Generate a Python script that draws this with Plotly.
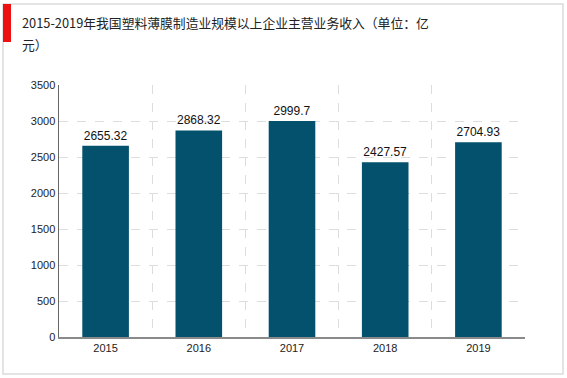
import plotly.graph_objects as go

years = ["2015", "2016", "2017", "2018", "2019"]
revenue = [2655.32, 2868.32, 2999.7, 2427.57, 2704.93]
value_labels = ["2655.32", "2868.32", "2999.7", "2427.57", "2704.93"]
title_line1 = "2015-2019年我国塑料薄膜制造业规模以上企业主营业务收入（单位：亿"
title_line2 = "元）"

W, H = 567, 378
L, R, T, B = 59, 525, 85, 337
pw, ph = R - L, B - T

def px(x):
    return (x - L) / pw

def py(y):
    return (B - y) / ph

fig = go.Figure()
fig.add_trace(go.Bar(
    x=years, y=revenue, text=value_labels, textposition="outside",
    textfont=dict(size=12, color="#111", family="Liberation Sans, Arial"),
    marker=dict(color="#03516D", line=dict(width=0)),
    width=0.5, cliponaxis=False, hoverinfo="skip",
))
# invisible trace to carry the category-boundary grid axis
n = len(years)
bounds = [i + 0.5 for i in range(n - 1)] + [n - 0.5]
fig.add_trace(go.Scatter(x=[-0.5, n - 0.5], y=[0, 0], xaxis="x2", mode="markers",
                         marker=dict(opacity=0), showlegend=False, hoverinfo="skip"))

fig.update_layout(
    width=W, height=H,
    margin=dict(l=L, r=W - R, t=T, b=H - B, autoexpand=False),
    paper_bgcolor="white", plot_bgcolor="white",
    showlegend=False,
    font=dict(family="Liberation Sans, Arial", size=11, color="#333"),
    xaxis=dict(type="category", showgrid=False, showline=True, linecolor="#8a8a8a",
               linewidth=1.5, ticks="", tickfont=dict(size=11, color="#222")),
    xaxis2=dict(overlaying="x", type="linear", range=[-0.5, n - 0.5], tickvals=bounds,
                showticklabels=False, showgrid=True, gridcolor="#dddddd", griddash="dash",
                gridwidth=1, zeroline=False, showline=False, ticks=""),
    yaxis=dict(range=[0, 3500], dtick=500, showgrid=True, gridcolor="#dddddd",
               griddash="dash", gridwidth=1, showline=True, linecolor="#666",
               linewidth=1.5, zeroline=False, ticks="", ticklen=0,
               tickfont=dict(size=11, color="#222")),
    bargap=0.5,
)

shapes = [
    dict(type="rect", xref="paper", yref="paper", x0=px(3), x1=px(563), y0=py(374), y1=py(4),
         line=dict(color="#dcdcdc", width=1.5), fillcolor="rgba(0,0,0,0)", layer="below"),
    dict(type="rect", xref="paper", yref="paper", x0=px(3), x1=px(11), y0=py(42), y1=py(4),
         line=dict(width=0), fillcolor="#ee1111"),
]
fig.update_layout(shapes=shapes)
fig.add_annotation(x=px(20), y=py(22), xref="paper", yref="paper", text=title_line1,
                   showarrow=False, xanchor="left", yanchor="middle",
                   font=dict(size=12.8, color="#222", family="Noto Sans CJK SC, Liberation Sans"))
fig.add_annotation(x=px(20), y=py(45), xref="paper", yref="paper", text=title_line2,
                   showarrow=False, xanchor="left", yanchor="middle",
                   font=dict(size=12.8, color="#222", family="Noto Sans CJK SC, Liberation Sans"))

fig.write_html("out.html", config={"displayModeBar": False, "staticPlot": True},
               post_script="document.body.style.margin='0';document.body.style.overflow='hidden';")
